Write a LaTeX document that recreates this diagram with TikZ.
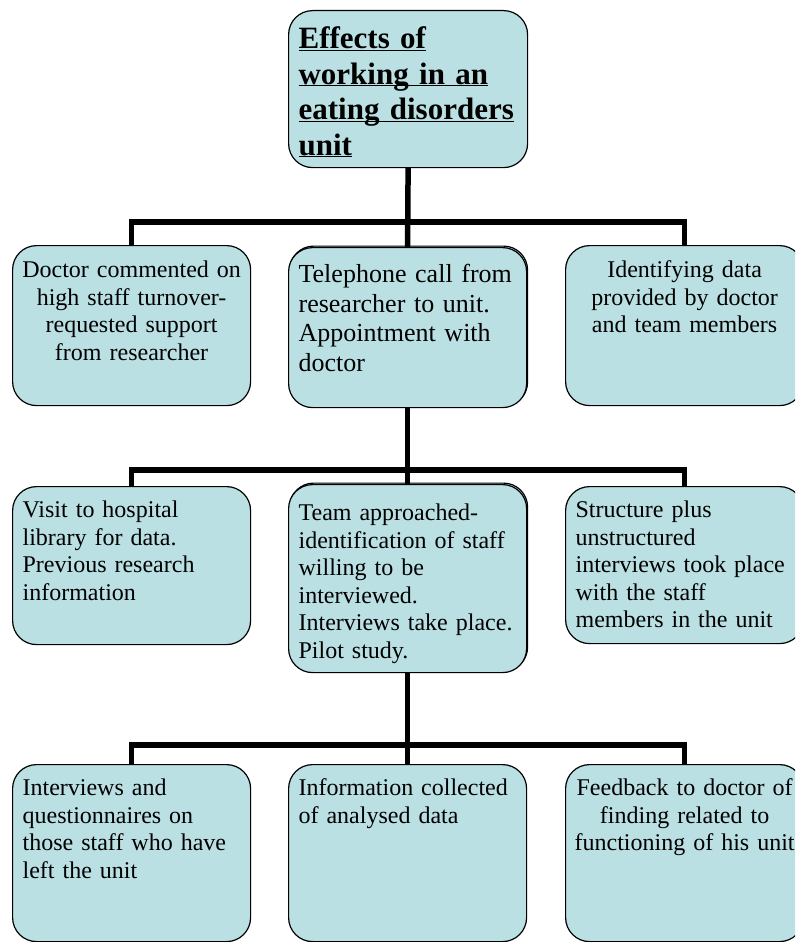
\documentclass[tikz,border=0pt]{standalone}
\usepackage{fontspec}
\setmainfont{Liberation Serif}
\usetikzlibrary{shadows}
\definecolor{paleblue}{RGB}{187,224,227}
\newcommand{\titleul}[1]{\underline{\smash{#1}}}

\tikzset{
  stage/.style={draw, line width=1.2pt, fill=paleblue, rounded corners=24pt,
    anchor=north west, minimum width=238pt, text width=218pt,
    inner xsep=10pt, inner ysep=0pt, align=left,
    font=\fontsize{24pt}{27.5pt}\selectfont},
  middle/.style={text width=234pt, inner xsep=2pt, align=center},
  stacked/.style={copy shadow={shadow xshift=1pt, shadow yshift=1.5pt,
    fill=paleblue, draw=black, line width=1.2pt}},
  link/.style={line width=5.5pt}
}

\begin{document}
\begin{tikzpicture}[x=1pt, y=-1pt]
\useasboundingbox (0,0) rectangle (795,942);
\clip (0,0) rectangle (795,942);

% title
\node[stage, text width=219pt, text height=38pt, text depth=119pt,
  font=\fontsize{31pt}{35.5pt}\selectfont\bfseries] (title) at (288,10)
  {\titleul{Effects of}\\ \titleul{working in an}\\ \titleul{eating disorders}\\ \titleul{unit}};

% first row
\node[stage, middle, text height=32pt, text depth=128pt] (doctor) at (12,245)
  {Doctor commented on\\ high staff turnover-\\ requested support\\ from researcher};
\node[stage, stacked, text height=35pt, text depth=125pt,
  font=\fontsize{26pt}{29.5pt}\selectfont] (phone) at (288,247)
  {Telephone call from\\ researcher to unit.\\ Appointment with\\ doctor};
\node[stage, middle, text height=32pt, text depth=128pt] (identify) at (565,245)
  {Identifying data\\ provided by doctor\\ and team members};

% second row
\node[stage, text height=31pt, text depth=127pt] (library) at (12,486)
  {Visit to hospital\\ library for data.\\ Previous research\\ information};
\node[stage, stacked, text height=36pt, text depth=152pt] (team) at (288,484)
  {Team approached-\\ identification of staff\\ willing to be\\ interviewed.\\ Interviews take place.\\ Pilot study.};
\node[stage, text height=31pt, text depth=126pt] (structure) at (565,486)
  {Structure plus\\ unstructured\\ interviews took place\\ with the staff\\ members in the unit};

% third row
\node[stage, text height=31pt, text depth=146pt] (leavers) at (12,764)
  {Interviews and\\ questionnaires on\\ those staff who have\\ left the unit};
\node[stage, text height=31pt, text depth=146pt] (collect) at (288,764)
  {Information collected\\ of analysed data};
\node[stage, middle, text height=31pt, text depth=146pt] (feedback) at (565,764)
  {Feedback to doctor of\\ finding related to\\ functioning of his unit};

% connectors
\coordinate (fork1) at (407.5,222);
\coordinate (fork2) at (407.5,470);
\coordinate (fork3) at (407.5,745);

\draw[link] (title.south) -- (phone.north);
\draw[link] (doctor.north) |- (fork1) -| (identify.north);
\draw[link] (phone.south) -- (team.north);
\draw[link] (library.north) |- (fork2) -| (structure.north);
\draw[link] (team.south) -- (collect.north);
\draw[link] (leavers.north) |- (fork3) -| (feedback.north);
\end{tikzpicture}
\end{document}
